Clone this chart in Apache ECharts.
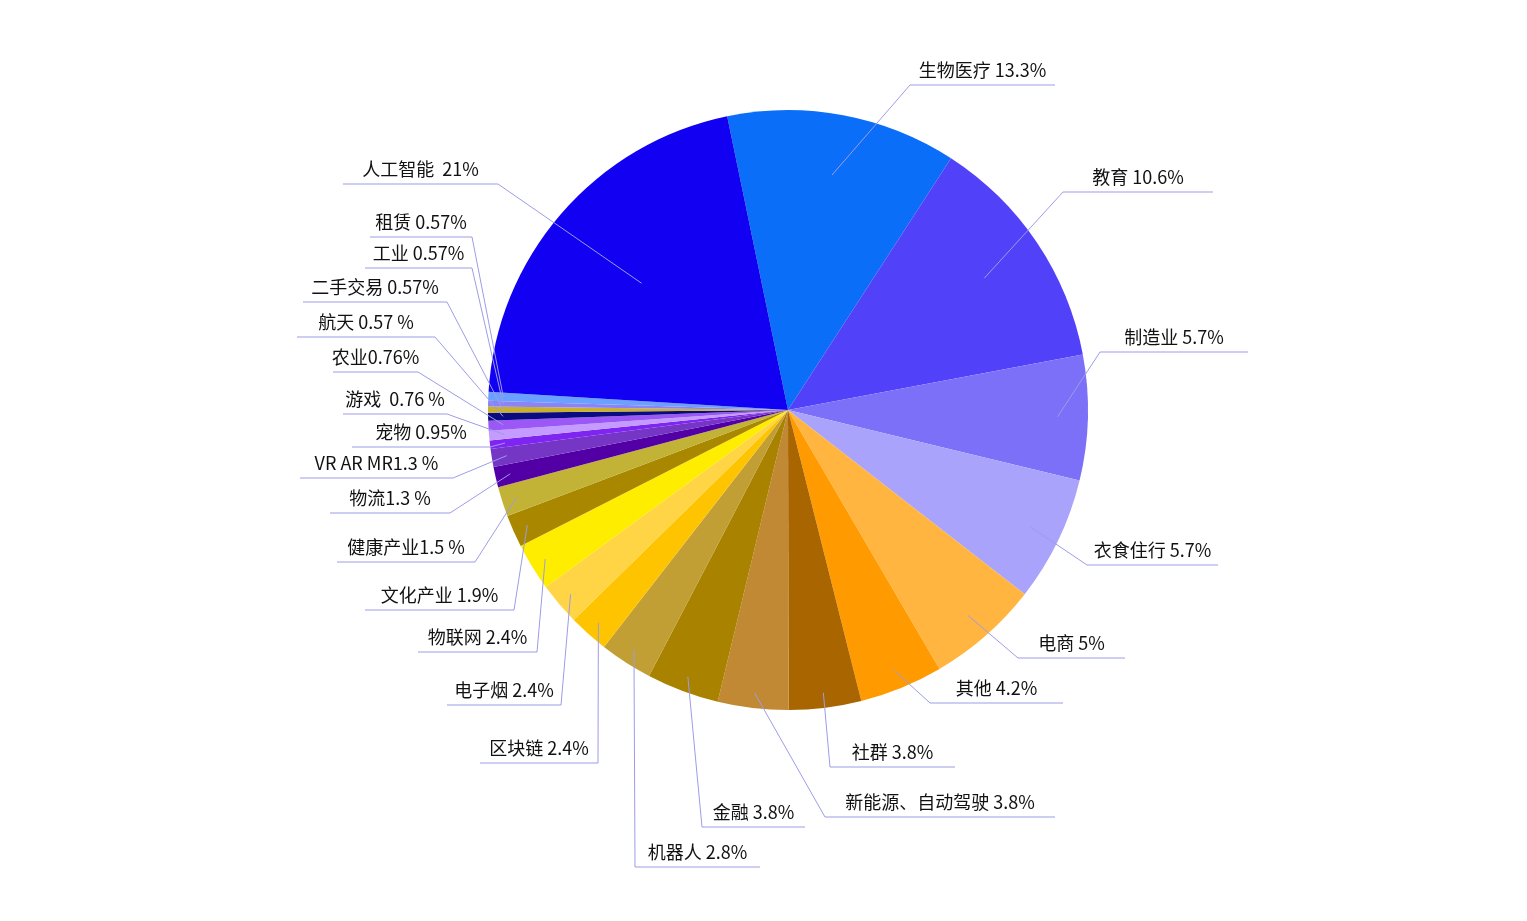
<!DOCTYPE html>
<html>
<head>
<meta charset="utf-8">
<title>行业分布</title>
<script src="https://cdn.jsdelivr.net/npm/echarts@6/dist/echarts.min.js"></script>
<style>
  html, body { margin: 0; padding: 0; background: #ffffff; }
  #main { width: 1527px; height: 921px; }
</style>
</head>
<body>
<div id="main"></div>
<script>
// 行业（顺时针，从生物医疗开始）
var categories = ['生物医疗', '教育', '制造业', '衣食住行', '电商', '其他', '社群',
    '新能源、自动驾驶', '金融', '机器人', '区块链', '电子烟', '物联网', '文化产业',
    '健康产业', '物流', 'VR AR MR', '宠物', '游戏', '农业', '航天', '二手交易',
    '工业', '租赁', '人工智能'];

// 扇区大小（%，按图中扇区角度读出）
var values = [12.4, 12.9, 6.75, 6.75, 6.05, 4.5, 3.9, 3.8, 3.9, 2.85, 2.15, 2.3, 2.55,
    1.75, 1.6, 1.1, 0.97, 0.45, 0.53, 0.53, 0.42, 0.33, 0.31, 0.47, 20.8];

// 标签文字（原图写法）
var labelTexts = ['生物医疗 13.3%', '教育 10.6%', '制造业 5.7%', '衣食住行 5.7%', '电商 5%',
    '其他 4.2%', '社群 3.8%', '新能源、自动驾驶 3.8%', '金融 3.8%', '机器人 2.8%',
    '区块链 2.4%', '电子烟 2.4%', '物联网 2.4%', '文化产业 1.9%', '健康产业1.5 %',
    '物流1.3 %', 'VR AR MR1.3 %', '宠物 0.95%', '游戏  0.76 %', '农业0.76%',
    '航天 0.57 %', '二手交易 0.57%', '工业 0.57%', '租赁 0.57%', '人工智能  21%'];

var colors = ['#0b6ef9', '#5142fa', '#7c70f8', '#a9a3fb', '#ffb540', '#ff9b00', '#a86500',
    '#c18934', '#a98200', '#c29f35', '#ffc400', '#ffd545', '#ffed00', '#a98800',
    '#c2b336', '#5200a5', '#7535c5', '#7f25f2', '#c49bff', '#9b58f7', '#0a0a82',
    '#c9b12e', '#8c84f6', '#6aa0ff', '#1100f2'];

// 引导线：拐点 x, 拐点 y, 横线终点 x
var guides = [
    [910, 85, 1055], [1063, 192, 1213], [1100, 352, 1248], [1087, 565, 1218],
    [1018, 658, 1125], [930, 703, 1063], [830, 767, 955], [825, 817, 1055],
    [702, 827, 805], [635, 867, 760], [598, 763, 480], [561, 705, 447],
    [537, 652, 418], [514, 610, 365], [475, 562, 337], [450, 513, 330],
    [453, 478, 300], [490, 447, 352], [447, 414, 343], [418, 372, 333],
    [435, 337, 297], [447, 302, 303], [472, 268, 365], [472, 237, 370],
    [498, 184, 343]
];

var cx = 788, cy = 410, r = 300;
var chart = echarts.init(document.getElementById('main'));

var pieData = categories.map(function (name, i) {
    return { name: name, value: values[i] };
});

var option = {
    animation: false,
    color: colors,
    series: [{
        // 扇区
        type: 'pie',
        z: 1,
        center: [cx, cy],
        radius: r,
        startAngle: 101.7,
        clockwise: true,
        data: pieData,
        itemStyle: { borderWidth: 0 },
        label: { show: false },
        labelLine: { show: false },
        emphasis: { disabled: true }
    }, {
        // 透明的同一个饼，只用来画标签和引导线（压在扇区上面）
        type: 'pie',
        z: 3,
        center: [cx, cy],
        radius: r,
        startAngle: 101.7,
        clockwise: true,
        avoidLabelOverlap: false,
        silent: true,
        data: pieData,
        itemStyle: { color: 'rgba(0,0,0,0)', borderWidth: 0 },
        label: {
            show: true,
            position: 'outside',
            formatter: function (p) {
                return labelTexts[p.dataIndex];
            },
            color: '#111111',
            fontSize: 18,
            lineHeight: 22,
            fontFamily: 'Noto Sans CJK SC'
        },
        labelLine: {
            show: true,
            length: 20,
            length2: 20,
            lineStyle: { color: '#9d9ce6', width: 1 }
        },
        // 标签放到横线上方，引导线起点缩进扇区内部
        labelLayout: function (params) {
            var g = guides[params.dataIndex];
            var pts = params.labelLinePoints;
            var span = values[params.dataIndex] * 3.6;
            var k = 0.95 - 0.005 * Math.max(0, span - 14);
            var start = pts ? [cx + (pts[0][0] - cx) * k, cy + (pts[0][1] - cy) * k] : [g[0], g[1]];
            return {
                x: (g[0] + g[2]) / 2,
                y: g[1] - 4,
                align: 'center',
                verticalAlign: 'bottom',
                labelLinePoints: [start, [g[0], g[1]], [g[2], g[1]]]
            };
        },
        emphasis: { disabled: true }
    }]
};
chart.setOption(option);
</script>
</body>
</html>
